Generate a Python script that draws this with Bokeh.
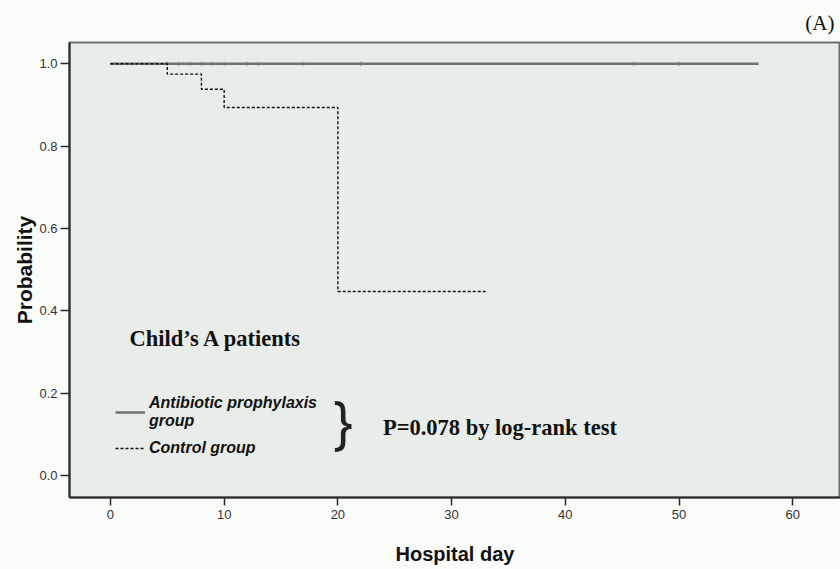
from bokeh.plotting import figure
from bokeh.models import Range1d, Label, Legend, LegendItem, FixedTicker, Title, CustomJSTickFormatter
from bokeh.embed import file_html
from bokeh.resources import INLINE

# Kaplan-Meier data
abx_days = [0, 57]
abx_prob = [1.0, 1.0]
abx_censor_days = [5, 6, 7, 8, 9, 10, 12, 13, 17, 22, 46, 50]
ctrl_days = [0, 5, 8, 10, 20, 33]
ctrl_prob = [1.0, 0.975, 0.938, 0.894, 0.447, 0.447]
x_ticks = [0, 10, 20, 30, 40, 50, 60]
y_ticks = [0.0, 0.2, 0.4, 0.6, 0.8, 1.0]

p = figure(width=840, height=569, output_backend="svg", toolbar_location=None,
           x_range=Range1d(-3.6, 64.2), y_range=Range1d(-0.0534, 1.0517),
           min_border_left=69, min_border_right=0, min_border_top=42, min_border_bottom=72)

p.background_fill_color = "#e9ede9"
p.border_fill_color = "#fafcfa"
p.outline_line_color = "#6a6e6a"
p.outline_line_width = 2
p.grid.visible = False

for ax in (p.xaxis[0], p.yaxis[0]):
    ax.axis_line_color = "#2a2a2a"
    ax.axis_line_width = 2
    ax.major_tick_line_color = "#2a2a2a"
    ax.major_tick_line_width = 1.5
    ax.major_tick_in = 0
    ax.minor_tick_line_color = None
    ax.major_label_text_font = "Liberation Sans"
    ax.major_label_text_font_size = "13px"
    ax.major_label_text_color = "#333333"
    ax.axis_label_text_font = "Liberation Sans"
    ax.axis_label_text_font_style = "bold"
    ax.axis_label_text_color = "#111111"

p.xaxis.ticker = FixedTicker(ticks=x_ticks)
p.yaxis.ticker = FixedTicker(ticks=y_ticks)
p.yaxis.formatter = CustomJSTickFormatter(code="return tick.toFixed(1);")
p.xaxis.major_tick_out = 8
p.yaxis.major_tick_out = 9
p.xaxis.major_label_standoff = 4
p.yaxis.major_label_standoff = 3
p.xaxis.axis_label = "Hospital day"
p.yaxis.axis_label = "Probability"
p.xaxis.axis_label_text_font_size = "20px"
p.yaxis.axis_label_text_font_size = "21px"
p.xaxis.axis_label_standoff = 21
p.yaxis.axis_label_standoff = 0

r_abx = p.line(abx_days, abx_prob, line_color="#6e726e", line_width=2.5)
p.scatter(abx_censor_days, [abx_prob[0]] * len(abx_censor_days), marker="dash", angle=1.5708,
          size=4, line_color="#7a7e7a", line_width=1)
r_ctrl = p.step(ctrl_days, ctrl_prob, mode="after", line_color="#111111", line_width=1.4,
                line_dash="3 2")

legend = Legend(items=[LegendItem(label="Antibiotic prophylaxis\ngroup", renderers=[r_abx]),
                       LegendItem(label="Control group", renderers=[r_ctrl])],
                location=(46, 40), orientation="vertical")
legend.background_fill_alpha = 0
legend.border_line_color = None
legend.padding = 0
legend.margin = 0
legend.spacing = 9
legend.glyph_width = 30
legend.glyph_height = 14
legend.label_standoff = 4
legend.label_text_font = "Liberation Sans"
legend.label_text_font_style = "bold italic"
legend.label_text_font_size = "16px"
legend.label_text_color = "#111111"
legend.label_text_line_height = 0.95
p.add_layout(legend)

p.add_layout(Label(x=1.68, y=0.333, text="Child\u2019s A patients", text_font="Liberation Serif",
                   text_font_style="bold", text_font_size="22.5px", text_baseline="middle",
                   text_color="#111111"))
p.add_layout(Label(x=23.96, y=0.1166, text="P=0.078 by log-rank test", text_font="Liberation Serif",
                   text_font_style="bold", text_font_size="22.5px", text_baseline="middle",
                   text_color="#111111"))
p.add_layout(Label(x=20.5, y=0.124, text="}", text_font="Inter",
                   text_font_size="56px", text_baseline="middle", text_align="center",
                   text_color="#222222"))

p.add_layout(Title(text="(A)", align="right", text_font="Liberation Serif", text_font_size="21px",
                   text_font_style="normal", text_color="#111111", standoff=16, offset=6), "above")

open("out.html", "w").write(file_html(p, INLINE))
